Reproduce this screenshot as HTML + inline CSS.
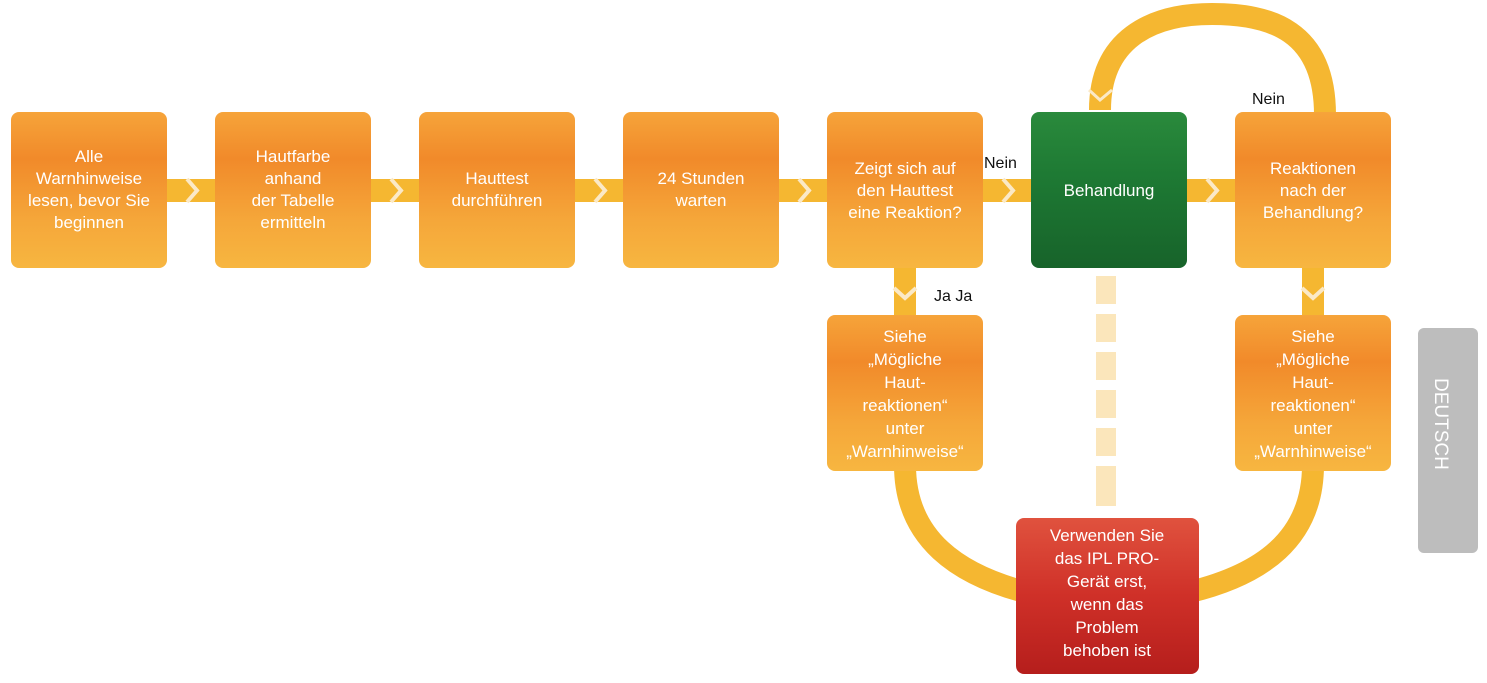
<!DOCTYPE html>
<html><head><meta charset="utf-8"><style>
body{margin:0;background:#fff;width:1487px;height:678px;overflow:hidden}
svg text{font-family:"Liberation Sans",sans-serif}
</style></head><body>
<svg width="1487" height="678" viewBox="0 0 1487 678" xmlns="http://www.w3.org/2000/svg">
<defs>
<linearGradient id="og" x1="0" y1="0" x2="0" y2="1">
<stop offset="0" stop-color="#f6a43a"/><stop offset="0.3" stop-color="#f18a2a"/><stop offset="0.7" stop-color="#f5a73a"/><stop offset="1" stop-color="#f7b640"/>
</linearGradient>
<linearGradient id="gg" x1="0" y1="0" x2="0" y2="1">
<stop offset="0" stop-color="#2a8a3c"/><stop offset="0.4" stop-color="#1e7a34"/><stop offset="1" stop-color="#17632a"/>
</linearGradient>
<linearGradient id="rg" x1="0" y1="0" x2="0" y2="1">
<stop offset="0" stop-color="#e0523e"/><stop offset="0.5" stop-color="#cf3028"/><stop offset="1" stop-color="#b51e1c"/>
</linearGradient>
</defs>
<rect x="160" y="179" width="1090" height="23" fill="#f5b731"/>
<g fill="none" stroke="#fbe9c6" stroke-width="4">
<polyline points="187,179 197,190.5 187,202"/><polyline points="391,179 401,190.5 391,202"/>
<polyline points="595,179 605,190.5 595,202"/><polyline points="799,179 809,190.5 799,202"/>
<polyline points="1003,179 1013,190.5 1003,202"/><polyline points="1207,179 1217,190.5 1207,202"/>
</g>
<rect x="894" y="265" width="22" height="55" fill="#f5b731"/>
<polyline points="894,288 905,298 916,288" fill="none" stroke="#fbe9c6" stroke-width="4"/>
<rect x="1302" y="265" width="22" height="55" fill="#f5b731"/>
<polyline points="1302,288 1313,298 1324,288" fill="none" stroke="#fbe9c6" stroke-width="4"/>
<g fill="#fbe6bb">
<rect x="1096" y="276" width="20" height="28"/><rect x="1096" y="314" width="20" height="28"/><rect x="1096" y="352" width="20" height="28"/>
<rect x="1096" y="390" width="20" height="28"/><rect x="1096" y="428" width="20" height="28"/><rect x="1096" y="466" width="20" height="40"/>
</g>
<path d="M1325,115 C1325,30 1270,14 1212,14 C1150,14 1100,40 1100,110" fill="none" stroke="#f5b731" stroke-width="22"/>
<polyline points="1089,90 1100,100 1112,90" fill="none" stroke="#fbe9c6" stroke-width="3"/>
<path d="M905,465 C905,540 960,575 1025,592" fill="none" stroke="#f5b731" stroke-width="22"/>
<path d="M1313,465 C1313,540 1260,575 1190,592" fill="none" stroke="#f5b731" stroke-width="22"/>
<g>
<rect x="11" y="112" width="156" height="156" rx="8" fill="url(#og)"/>
<rect x="215" y="112" width="156" height="156" rx="8" fill="url(#og)"/>
<rect x="419" y="112" width="156" height="156" rx="8" fill="url(#og)"/>
<rect x="623" y="112" width="156" height="156" rx="8" fill="url(#og)"/>
<rect x="827" y="112" width="156" height="156" rx="8" fill="url(#og)"/>
<rect x="1031" y="112" width="156" height="156" rx="8" fill="url(#gg)"/>
<rect x="1235" y="112" width="156" height="156" rx="8" fill="url(#og)"/>
<rect x="827" y="315" width="156" height="156" rx="8" fill="url(#og)"/>
<rect x="1235" y="315" width="156" height="156" rx="8" fill="url(#og)"/>
<rect x="1016" y="518" width="183" height="156" rx="8" fill="url(#rg)"/>
<rect x="1418" y="328" width="60" height="225" rx="6" fill="#bdbdbd"/>
</g>
<g fill="#fff" font-size="17" text-anchor="middle">
<text x="89" y="162">Alle</text><text x="89" y="184">Warnhinweise</text><text x="89" y="206">lesen, bevor Sie</text><text x="89" y="228">beginnen</text>
<text x="293" y="162">Hautfarbe</text><text x="293" y="184">anhand</text><text x="293" y="206">der Tabelle</text><text x="293" y="228">ermitteln</text>
<text x="497" y="184">Hauttest</text><text x="497" y="206">durchführen</text>
<text x="701" y="184">24 Stunden</text><text x="701" y="206">warten</text>
<text x="905" y="174">Zeigt sich auf</text><text x="905" y="196">den Hauttest</text><text x="905" y="218">eine Reaktion?</text>
<text x="1109" y="196">Behandlung</text>
<text x="1313" y="174">Reaktionen</text><text x="1313" y="196">nach der</text><text x="1313" y="218">Behandlung?</text>
<text x="905" y="342">Siehe</text><text x="905" y="365">„Mögliche</text><text x="905" y="388">Haut-</text><text x="905" y="411">reaktionen“</text><text x="905" y="434">unter</text><text x="905" y="457">„Warnhinweise“</text>
<text x="1313" y="342">Siehe</text><text x="1313" y="365">„Mögliche</text><text x="1313" y="388">Haut-</text><text x="1313" y="411">reaktionen“</text><text x="1313" y="434">unter</text><text x="1313" y="457">„Warnhinweise“</text>
<text x="1107" y="541">Verwenden Sie</text><text x="1107" y="564">das IPL PRO-</text><text x="1107" y="587">Gerät erst,</text><text x="1107" y="610">wenn das</text><text x="1107" y="633">Problem</text><text x="1107" y="656">behoben ist</text>
</g>
<g fill="#111" font-size="16">
<text x="984" y="168">Nein</text>
<text x="1252" y="104">Nein</text>
<text x="934" y="301">Ja Ja</text>
</g>
<text x="0" y="0" fill="#fff" font-size="19" transform="translate(1435,378) rotate(90)">DEUTSCH</text>
</svg>
</body></html>
